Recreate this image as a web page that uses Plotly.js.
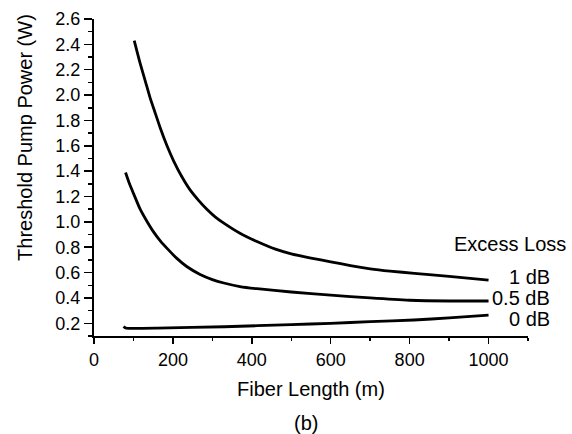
<!DOCTYPE html>
<html>
<head>
<meta charset="utf-8">
<script src="https://cdn.plot.ly/plotly-3.0.1.min.js"></script>
<style>
html,body{margin:0;padding:0;background:#fff;}
#chart{width:572px;height:434px;}
</style>
</head>
<body>
<div id="chart"></div>
<script>
// Fiber length (m) and threshold pump power (W) for each excess loss
const len1dB = [102, 117, 130, 142, 155, 168, 185, 202, 222, 244, 265, 286, 307, 329, 370, 413, 460, 500, 550, 600, 650, 700, 750, 812, 900, 1000];
const pow1dB = [2.43, 2.25, 2.11, 1.98, 1.86, 1.74, 1.60, 1.48, 1.36, 1.25, 1.17, 1.10, 1.04, 0.99, 0.91, 0.845, 0.785, 0.748, 0.715, 0.685, 0.655, 0.63, 0.612, 0.594, 0.57, 0.54];

const len05dB = [80, 90, 100, 117, 134, 150, 168, 190, 210, 235, 269, 300, 329, 370, 413, 500, 600, 700, 800, 900, 1000];
const pow05dB = [1.39, 1.30, 1.225, 1.10, 1.005, 0.925, 0.85, 0.775, 0.712, 0.648, 0.585, 0.545, 0.518, 0.49, 0.473, 0.447, 0.423, 0.40, 0.382, 0.376, 0.376];

const len0dB = [75, 80, 100, 160, 330, 500, 600, 700, 811, 900, 1000];
const pow0dB = [0.175, 0.163, 0.16, 0.162, 0.173, 0.19, 0.2, 0.213, 0.226, 0.243, 0.265];

const seriesNames = ["1 dB", "0.5 dB", "0 dB"];
const legendTitle = "Excess Loss";
const xTitle = "Fiber Length (m)";
const yTitle = "Threshold Pump Power (W)";
const panelLabel = "(b)";

const FONT = "Liberation Sans, Arial, Helvetica, sans-serif";
const lineStyle = {color: "#000", width: 2.8, shape: "spline", smoothing: 0.6};

const traces = [
  {x: len1dB, y: pow1dB, name: seriesNames[0]},
  {x: len05dB, y: pow05dB, name: seriesNames[1]},
  {x: len0dB, y: pow0dB, name: seriesNames[2]}
].map(t => Object.assign(t, {type: "scatter", mode: "lines", line: lineStyle, hoverinfo: "skip"}));

const annFont = {family: FONT, size: 20, color: "#000"};
const layout = {
  width: 572, height: 434,
  margin: {l: 94, r: 44, t: 19, b: 98},
  paper_bgcolor: "#fff", plot_bgcolor: "#fff",
  showlegend: false,
  font: {family: FONT, size: 18, color: "#000"},
  xaxis: {
    range: [0, 1100], dtick: 200, tick0: 0,
    showgrid: false, zeroline: false,
    showline: true, linecolor: "#000", linewidth: 2,
    ticks: "outside", ticklen: 6, tickwidth: 1.5, tickcolor: "#000",
    minor: {dtick: 100, ticks: "outside", ticklen: 3, tickwidth: 1.5, tickcolor: "#000"},
    tickfont: {family: FONT, size: 18, color: "#000"}
  },
  yaxis: {
    range: [0.1, 2.6], dtick: 0.2, tick0: 0, tickformat: ".1f",
    showgrid: false, zeroline: false,
    showline: true, linecolor: "#000", linewidth: 2,
    ticks: "outside", ticklen: 8, tickwidth: 1.5, tickcolor: "#000",
    minor: {dtick: 0.1, ticks: "outside", ticklen: 4, tickwidth: 1.5, tickcolor: "#000"},
    tickfont: {family: FONT, size: 18, color: "#000"}
  },
  annotations: [
    {text: legendTitle, xref: "paper", yref: "paper", x: 0.9585, y: 0.29, xanchor: "center", yanchor: "middle", showarrow: false, font: annFont},
    {text: seriesNames[0], xref: "paper", yref: "paper", x: 1.0553, y: 0.186, xanchor: "right", yanchor: "middle", showarrow: false, font: annFont},
    {text: seriesNames[1], xref: "paper", yref: "paper", x: 1.0553, y: 0.120, xanchor: "right", yanchor: "middle", showarrow: false, font: annFont},
    {text: seriesNames[2], xref: "paper", yref: "paper", x: 1.0553, y: 0.0536, xanchor: "right", yanchor: "middle", showarrow: false, font: annFont},
    {text: xTitle, xref: "paper", yref: "paper", x: 0.5, y: -0.167, xanchor: "center", yanchor: "middle", showarrow: false, font: annFont},
    {text: yTitle, xref: "paper", yref: "paper", x: -0.159, y: 0.628, xanchor: "center", yanchor: "middle", textangle: -90, showarrow: false, font: annFont},
    {text: panelLabel, xref: "paper", yref: "paper", x: 0.4885, y: -0.274, xanchor: "center", yanchor: "middle", showarrow: false, font: annFont}
  ]
};

Plotly.newPlot("chart", traces, layout, {staticPlot: true, displayModeBar: false});
</script>
</body>
</html>
